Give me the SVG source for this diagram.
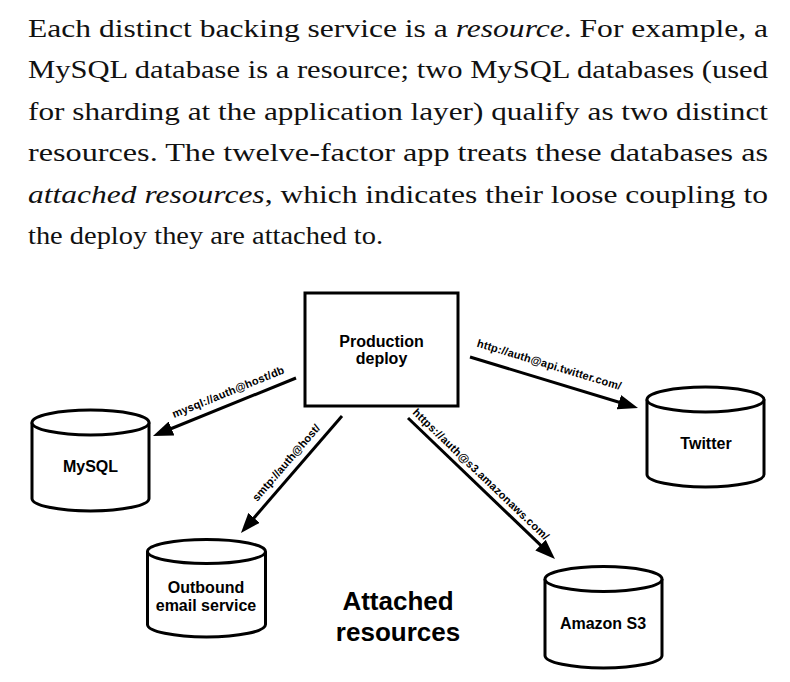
<svg xmlns="http://www.w3.org/2000/svg" width="790" height="682" viewBox="0 0 790 682">
<style>
.para{font-family:"Liberation Serif","Times New Roman",serif;font-size:26px;fill:#111}
.it{font-style:italic}
.node{fill:#fff;stroke:#000;stroke-width:3}
.lbl{font-family:"Liberation Sans",Arial,sans-serif;font-weight:bold;font-size:16px;fill:#000;text-anchor:middle}
.url{font-family:"Liberation Sans",Arial,sans-serif;font-weight:bold;font-size:11px;fill:#000;text-anchor:middle}
.big{font-family:"Liberation Sans",Arial,sans-serif;font-weight:bold;font-size:26px;fill:#000;text-anchor:middle}
.conn{stroke:#000;stroke-width:3;fill:none;marker-end:url(#ah)}
</style>
<defs>
<marker id="ah" markerUnits="userSpaceOnUse" viewBox="0 0 20 15" markerWidth="20" markerHeight="15" refX="8" refY="7.5" orient="auto">
<path d="M0,0 L20,7.5 L0,15 z" fill="#000"/>
</marker>
</defs>
<rect width="790" height="682" fill="#fff"/>
<g id="paragraph">
<text class="para" x="28" y="36.5" textLength="740" lengthAdjust="spacingAndGlyphs">Each distinct backing service is a <tspan class="it">resource</tspan>. For example, a</text>
<text class="para" x="28" y="78" textLength="740" lengthAdjust="spacingAndGlyphs">MySQL database is a resource; two MySQL databases (used</text>
<text class="para" x="28" y="119.5" textLength="740" lengthAdjust="spacingAndGlyphs">for sharding at the application layer) qualify as two distinct</text>
<text class="para" x="28" y="161" textLength="740" lengthAdjust="spacingAndGlyphs">resources. The twelve-factor app treats these databases as</text>
<text class="para" x="28" y="202.5" textLength="740" lengthAdjust="spacingAndGlyphs"><tspan class="it">attached resources</tspan>, which indicates their loose coupling to</text>
<text class="para" x="28" y="244" textLength="355" lengthAdjust="spacingAndGlyphs">the deploy they are attached to.</text>
</g>
<g id="connectors">
<line class="conn" x1="296" y1="378" x2="164.1" y2="431.5"/>
<line class="conn" x1="342" y1="416" x2="248.8" y2="523.9"/>
<line class="conn" x1="470" y1="357" x2="626.5" y2="404.5"/>
<line class="conn" x1="408" y1="418" x2="546.3" y2="550.7"/>
<text class="url" transform="translate(229.5,395.5) rotate(-22.1)" textLength="120" lengthAdjust="spacing">mysql://auth@host/db</text>
<text class="url" transform="translate(289,465.2) rotate(-49.2)" textLength="97" lengthAdjust="spacing">smtp://auth@host/</text>
<text class="url" transform="translate(548.1,368.2) rotate(16.9)" textLength="150" lengthAdjust="spacing">http://auth@api.twitter.com/</text>
<text class="url" transform="translate(478.3,477) rotate(43.8)" textLength="184" lengthAdjust="spacing">https://auth@s3.amazonaws.com/</text>
</g>
<g id="production-deploy">
<rect class="node" x="305" y="293" width="153" height="113"/>
<text class="lbl" x="381.5" y="347">Production</text>
<text class="lbl" x="381.5" y="363.5">deploy</text>
</g>
<g id="mysql">
<path class="node" d="M32,422.5 L32,498.5 A58.5,12.5 0 0 0 149,498.5 L149,422.5"/>
<ellipse class="node" cx="90.5" cy="422.5" rx="58.5" ry="12.5"/>
<text class="lbl" x="90.5" y="472">MySQL</text>
</g>
<g id="outbound-email">
<path class="node" d="M147.5,551.5 L147.5,624.5 A59,12.5 0 0 0 265.5,624.5 L265.5,551.5"/>
<ellipse class="node" cx="206.5" cy="551.5" rx="59" ry="12"/>
<text class="lbl" x="206" y="593">Outbound</text>
<text class="lbl" x="206" y="611">email service</text>
</g>
<g id="twitter">
<path class="node" d="M647,399.5 L647,474.5 A58.5,12.5 0 0 0 764,474.5 L764,399.5"/>
<ellipse class="node" cx="705.5" cy="399.5" rx="58.5" ry="12.5"/>
<text class="lbl" x="706" y="449">Twitter</text>
</g>
<g id="amazon-s3">
<path class="node" d="M545,579 L545,655.5 A58.5,12.5 0 0 0 662,655.5 L662,579"/>
<ellipse class="node" cx="603.5" cy="579" rx="58.5" ry="12.5"/>
<text class="lbl" x="603" y="629">Amazon S3</text>
</g>
<g id="title">
<text class="big" x="398" y="610">Attached</text>
<text class="big" x="398" y="641">resources</text>
</g>
</svg>
